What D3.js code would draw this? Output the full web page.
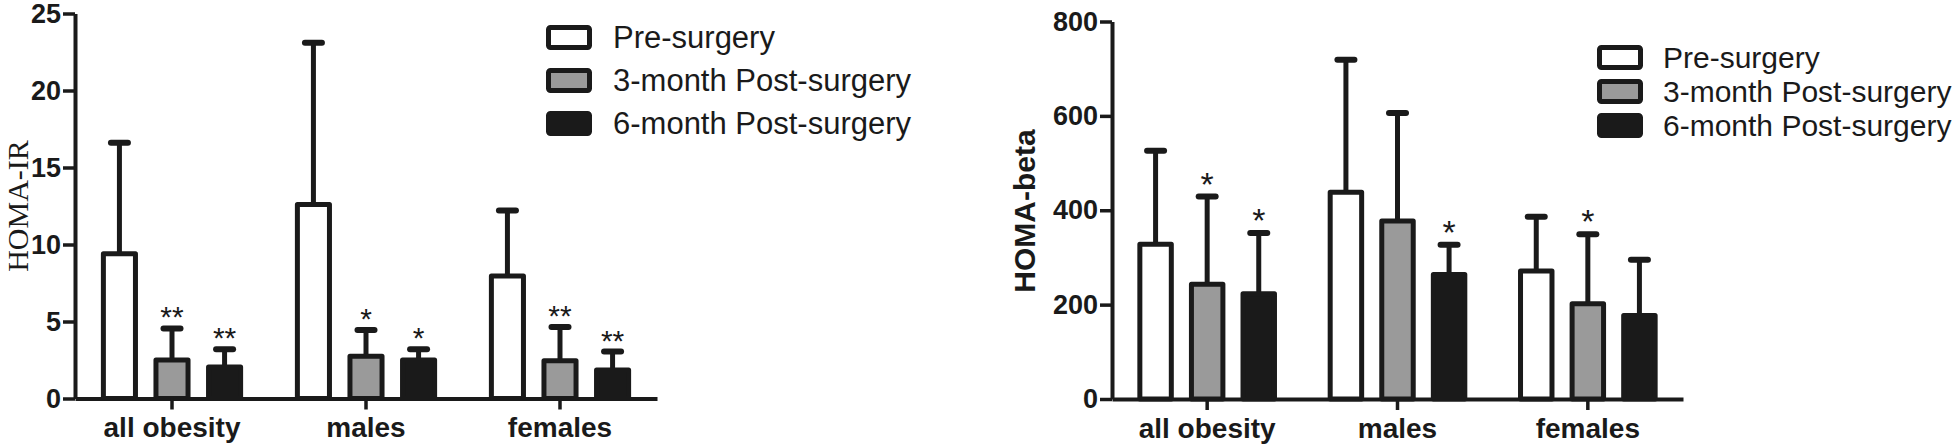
<!DOCTYPE html>
<html>
<head>
<meta charset="utf-8">
<script src="https://cdn.jsdelivr.net/npm/d3@7"></script>
<style>
  body { margin: 0; background: #fff; }
  svg { display: block; }
  text { font-family: "Liberation Sans", Arial, sans-serif; fill: #1a1a1a; }
</style>
</head>
<body>
<svg id="svgelement" width="1959" height="446"></svg>
<script>
  var categories = ["all obesity", "males", "females"];
  var seriesNames = ["Pre-surgery", "3-month Post-surgery", "6-month Post-surgery"];
  var seriesFill = ["#ffffff", "#9a9a9a", "#1a1a1a"];

  // HOMA-IR (left panel): means and upper error bar ends
  var irMean = [[9.4, 12.6, 7.95], [2.5, 2.75, 2.45], [2.05, 2.5, 1.85]];
  var irErr = [[16.6, 23.1, 12.2], [4.55, 4.45, 4.65], [3.2, 3.2, 3.05]];
  var irStars = [["", "", ""], ["**", "*", "**"], ["**", "*", "**"]];
  var irTicks = [0, 5, 10, 15, 20, 25];

  // HOMA-beta (right panel)
  var betaMean = [[328, 438, 271], [243, 377, 202], [223, 264, 177]];
  var betaErr = [[526, 719, 386], [429, 606, 349], [352, 327, 295]];
  var betaStars = [["", "", ""], ["*", "", "*"], ["*", "*", ""]];
  var betaTicks = [0, 200, 400, 600, 800];

  var ink = "#1a1a1a";
  var svg = d3.select("#svgelement");

  function drawPanel(p) {
    var g = svg.append("g");
    var y = d3.scaleLinear().domain([0, p.max]).range([p.bottom, p.top]);
    var x0 = d3.scaleBand().domain(categories).range([p.left, p.right]);
    var x1 = d3.scaleBand().domain(seriesNames).range([0, x0.bandwidth()])
      .paddingInner(0.39).paddingOuter(0.54);

    // y axis
    var ya = g.append("g").attr("transform", "translate(" + p.left + ",0)")
      .call(d3.axisLeft(y).tickValues(p.ticks).tickSize(12).tickSizeOuter(0).tickPadding(2));
    ya.select(".domain").attr("stroke", ink).attr("stroke-width", 4);
    ya.selectAll(".tick line").attr("stroke", ink).attr("stroke-width", 3.5);
    ya.selectAll(".tick text").style("font-size", "27px").style("font-weight", "bold")
      .attr("fill", ink);

    // bars + error bars
    seriesNames.forEach(function(s, si) {
      var rows = categories.map(function(c, ci) {
        return {c: c, v: p.mean[si][ci], e: p.err[si][ci], star: p.stars[si][ci]};
      });
      var cx = function(d) { return x0(d.c) + x1(s) + x1.bandwidth() / 2; };

      g.selectAll(null).data(rows).enter().append("line")
        .attr("x1", cx).attr("x2", cx)
        .attr("y1", function(d) { return y(d.v); })
        .attr("y2", function(d) { return y(d.e); })
        .attr("stroke", ink).attr("stroke-width", 5);
      g.selectAll(null).data(rows).enter().append("line")
        .attr("x1", function(d) { return cx(d) - 8.5; })
        .attr("x2", function(d) { return cx(d) + 8.5; })
        .attr("y1", function(d) { return y(d.e); })
        .attr("y2", function(d) { return y(d.e); })
        .attr("stroke", ink).attr("stroke-width", 6).attr("stroke-linecap", "round");

      g.selectAll(null).data(rows).enter().append("rect")
        .attr("x", function(d) { return x0(d.c) + x1(s); })
        .attr("width", x1.bandwidth())
        .attr("y", function(d) { return y(d.v); })
        .attr("height", function(d) { return y(0) - y(d.v); })
        .attr("fill", seriesFill[si])
        .attr("stroke", ink).attr("stroke-width", 5).attr("stroke-linejoin", "round");

      g.selectAll(null).data(rows.filter(function(d) { return d.star; })).enter().append("text")
        .attr("x", cx)
        .attr("y", function(d) { return y(d.e) - 1; })
        .attr("text-anchor", "middle")
        .style("font-size", p.starSize + "px")
        .text(function(d) { return d.star; });
    });

    // x axis
    var xa = g.append("g").attr("transform", "translate(0," + p.bottom + ")")
      .call(d3.axisBottom(x0).tickSize(11).tickSizeOuter(0).tickPadding(8));
    xa.select(".domain").attr("stroke", ink).attr("stroke-width", 4);
    xa.selectAll(".tick line").attr("stroke", ink).attr("stroke-width", 3.5);
    xa.selectAll(".tick text").style("font-size", "28px").style("font-weight", "bold")
      .attr("fill", ink);

    // y label
    g.append("text")
      .attr("transform", "translate(" + p.labelX + "," + p.labelY + ") rotate(-90)")
      .attr("text-anchor", "middle")
      .style("font-family", p.labelFont)
      .style("font-weight", p.labelWeight)
      .style("font-size", p.labelSize + "px")
      .text(p.label);

    // legend
    var lg = g.append("g").attr("transform", "translate(" + p.legX + "," + p.legY + ")");
    var items = lg.selectAll("g").data(seriesNames).enter().append("g")
      .attr("transform", function(d, i) { return "translate(0," + i * p.legStep + ")"; });
    items.append("rect")
      .attr("x", 0).attr("y", -10).attr("width", 41).attr("height", 20)
      .attr("rx", 2)
      .attr("fill", function(d, i) { return seriesFill[i]; })
      .attr("stroke", ink).attr("stroke-width", 5).attr("stroke-linejoin", "round");
    items.append("text")
      .attr("x", p.legTextDx).attr("y", 10)
      .style("font-size", p.legSize + "px")
      .text(function(d) { return d; });
  }

  drawPanel({
    mean: irMean, err: irErr, stars: irStars, ticks: irTicks, max: 25,
    left: 75, right: 657, top: 13.5, bottom: 398.5,
    label: "HOMA-IR", labelFont: "'Liberation Serif', 'Times New Roman', serif",
    labelWeight: "normal", labelSize: 30, labelX: 28, labelY: 206,
    starSize: 30,
    legX: 548.5, legY: 37.5, legStep: 43, legTextDx: 64.5, legSize: 31
  });

  drawPanel({
    mean: betaMean, err: betaErr, stars: betaStars, ticks: betaTicks, max: 800,
    left: 1112, right: 1683, top: 21.5, bottom: 399,
    label: "HOMA-beta", labelFont: "'Liberation Sans', Arial, sans-serif",
    labelWeight: "bold", labelSize: 30, labelX: 1035, labelY: 211,
    starSize: 34,
    legX: 1599.5, legY: 57.5, legStep: 34, legTextDx: 63.5, legSize: 30
  });
</script>
</body>
</html>
